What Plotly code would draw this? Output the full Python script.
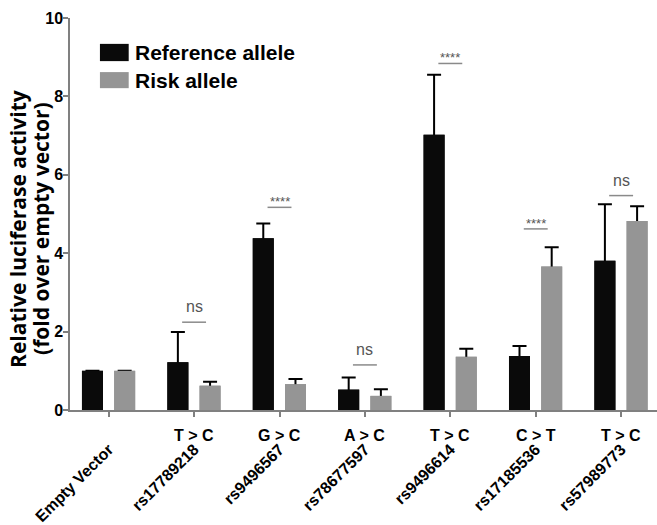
import plotly.graph_objects as go

categories = ["Empty Vector", "rs17789218", "rs9496567", "rs78677597",
              "rs9496614", "rs17185536", "rs57989773"]
mutations = ["", "T > C", "G > C", "A > C", "T > C", "C > T", "T > C"]
series_names = ["Reference allele", "Risk allele"]
ref_values = [1.0, 1.22, 4.38, 0.52, 7.02, 1.38, 3.81]
ref_err = [0.0, 0.77, 0.38, 0.31, 1.53, 0.25, 1.44]
risk_values = [1.0, 0.62, 0.66, 0.36, 1.36, 3.66, 4.82]
risk_err = [0.0, 0.10, 0.13, 0.17, 0.20, 0.49, 0.38]
sig_labels = ["", "ns", "****", "ns", "****", "****", "ns"]
sig_heights = [None, 2.24, 5.17, 1.15, 8.84, 4.62, 5.47]
y_title_lines = ["Relative luciferase activity", "(fold over empty vector)"]

colors = ["#0a0a0a", "#959595"]
xs = list(range(len(categories)))
bar_w = 0.246
offsets = [-0.19 - bar_w / 2, 0.187 - bar_w / 2]

fig = go.Figure()
series = [(series_names[0], ref_values, ref_err, colors[0], offsets[0]),
          (series_names[1], risk_values, risk_err, colors[1], offsets[1])]
# bars with error bars (symmetric; lower half hidden by the covering bars below)
for name, vals, errs, col, off in series:
    fig.add_trace(go.Bar(
        x=xs, y=vals, name=name, width=bar_w, offset=off,
        marker=dict(color=col, line=dict(width=0)),
        error_y=dict(type="data", array=errs, color="#000000", thickness=2, width=7),
        showlegend=False,
    ))
# covering bars so only the upward half of each error bar is visible
for name, vals, errs, col, off in series:
    fig.add_trace(go.Bar(
        x=xs, y=vals, name=name, width=bar_w, offset=off,
        marker=dict(color=col, line=dict(width=0)),
        showlegend=False, hoverinfo="skip",
    ))

shapes = []
annotations = []
bold = dict(family="Liberation Sans, Arial", color="#000000", weight="bold")

# significance markers
for i, (lab, h) in enumerate(zip(sig_labels, sig_heights)):
    if not lab:
        continue
    shapes.append(dict(type="line", xref="x", yref="y", x0=i - 0.14, x1=i + 0.14,
                       y0=h, y1=h, line=dict(color="#8a8a8a", width=1.5)))
    if lab == "ns":
        annotations.append(dict(x=i, y=h, xref="x", yref="y", text=lab, showarrow=False,
                                yanchor="bottom", yshift=5,
                                font=dict(family="Liberation Sans, Arial", size=16, color="#555555")))
    else:
        annotations.append(dict(x=i, y=h, xref="x", yref="y", text=lab, showarrow=False,
                                yanchor="bottom", yshift=-4,
                                font=dict(family="Liberation Sans, Arial", size=13, color="#555555")))

# mutation labels under axis
for i, m in enumerate(mutations):
    if m:
        annotations.append(dict(x=i, y=-0.066, xref="x", yref="paper", text=m,
                                showarrow=False, yanchor="middle",
                                font=dict(size=16, **bold)))

# custom legend
leg_rows = [(0.934, 0.890), (0.862, 0.821)]
for (y1, y0), name, col in zip(leg_rows, series_names, colors):
    shapes.append(dict(type="rect", xref="paper", yref="paper", x0=0.051, x1=0.100,
                       y0=y0, y1=y1, fillcolor=col, line=dict(width=0)))
    annotations.append(dict(x=0.108, y=(y0 + y1) / 2, xref="paper", yref="paper",
                            text=name, showarrow=False, xanchor="left", yanchor="middle",
                            font=dict(size=21, **bold)))

# y axis title (two rotated lines)
for line, shift in zip(y_title_lines, [-52, -29]):
    annotations.append(dict(x=0, y=0.462, xref="paper", yref="paper", text=line,
                            showarrow=False, textangle=-90, xanchor="center",
                            yanchor="middle", xshift=shift,
                            font=dict(family="Open Sans", size=21, color="#000000",
                                      weight="bold")))

fig.update_layout(
    width=657, height=525,
    margin=dict(l=70, r=0, t=18, b=115, autoexpand=False),
    paper_bgcolor="white", plot_bgcolor="white",
    barmode="overlay",
    shapes=shapes, annotations=annotations,
    xaxis=dict(range=[-0.453, 6.42], tickmode="array", tickvals=xs, ticktext=categories,
               tickangle=-45, showline=True, linecolor="#808080", linewidth=1.5,
               ticks="outside", ticklen=5, tickcolor="#808080", tickwidth=1.5,
               ticklabelstandoff=17, showgrid=False, zeroline=False, automargin=False,
               tickfont=dict(size=16, **bold)),
    yaxis=dict(range=[0, 10], tickvals=[0, 2, 4, 6, 8, 10], showline=True,
               linecolor="#808080", linewidth=1.5, ticks="outside", ticklen=5,
               tickcolor="#808080", tickwidth=1.5, showgrid=False, zeroline=False,
               ticklabelstandoff=-3,
               automargin=False, tickfont=dict(size=16, **bold)),
)

fig.write_html("out.html", config={"displayModeBar": False},
               post_script="document.body.style.margin='0';")
